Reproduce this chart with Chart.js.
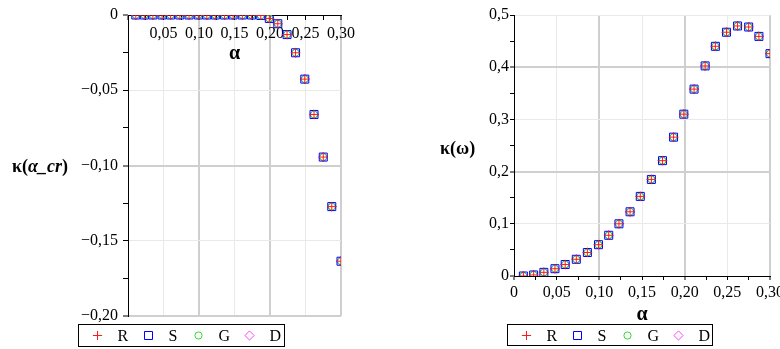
<!DOCTYPE html>
<html>
<head>
<meta charset="utf-8">
<script src="https://cdn.jsdelivr.net/npm/chart.js"></script>
<style>
html,body{margin:0;padding:0;background:#fff;overflow:hidden;width:780px;height:349px;}
#wrap{position:relative;width:780px;height:349px;overflow:hidden;}
canvas{position:absolute;top:0;}
#c1{left:0;}
#c2{left:390px;}
.ylab{position:absolute;font-family:"Liberation Serif",serif;font-weight:bold;font-size:18px;line-height:18px;white-space:nowrap;color:#000;}
#yl1{left:12px;top:157px;}
#yl2{left:440px;top:139px;}
</style>
</head>
<body>
<div id="wrap">
<canvas id="c1" width="390" height="349"></canvas>
<canvas id="c2" width="400" height="349"></canvas>
<div class="ylab" id="yl1">κ(<i>α_cr</i>)</div>
<div class="ylab" id="yl2">κ(ω)</div>
</div>
<script>
// ---------- data ----------
const alpha = [0.011,0.023,0.035,0.048,0.060,0.073,0.086,0.099,0.111,0.123,0.136,0.148,
               0.161,0.174,0.187,0.199,0.211,0.224,0.236,0.249,0.262,0.275,0.287,0.300];

// left chart: kappa(alpha_cr) for methods R, S, G, D
const kappaCrR = [0,0,0,0,0,0,0,0,0,0,0,0,0,0,-0.0003,-0.0023,-0.0058,-0.013,-0.0251,-0.0426,-0.0661,-0.0944,-0.1273,-0.1636];
const kappaCrS = [0,0,0,0,0,0,0,0,0,0,0,0,0,0,-0.0003,-0.0023,-0.0058,-0.013,-0.0251,-0.0426,-0.0661,-0.0944,-0.1273,-0.1636];
const kappaCrG = [0,0,0,0,0,0,0,0,0,0,0,0,0,0,-0.0003,-0.0023,-0.0058,-0.013,-0.0251,-0.0426,-0.0661,-0.0944,-0.1273,-0.1636];
const kappaCrD = [0,0,0,0,0,0,0,0,0,0,0,0,0,0,-0.0003,-0.0023,-0.0058,-0.013,-0.0251,-0.0426,-0.0661,-0.0944,-0.1273,-0.1636];

// right chart: kappa(omega) for methods R, S, G, D
const kappaOmR = [0.000,0.002,0.007,0.014,0.022,0.032,0.045,0.060,0.078,0.100,0.123,0.1525,0.185,0.221,0.266,0.310,0.358,0.4025,0.440,0.467,0.479,0.477,0.459,0.426];
const kappaOmS = [0.000,0.002,0.007,0.014,0.022,0.032,0.045,0.060,0.078,0.100,0.123,0.1525,0.185,0.221,0.266,0.310,0.358,0.4025,0.440,0.467,0.479,0.477,0.459,0.426];
const kappaOmG = [0.000,0.002,0.007,0.014,0.022,0.032,0.045,0.060,0.078,0.100,0.123,0.1525,0.185,0.221,0.266,0.310,0.358,0.4025,0.440,0.467,0.479,0.477,0.459,0.426];
const kappaOmD = [0.000,0.002,0.007,0.014,0.022,0.032,0.045,0.060,0.078,0.100,0.123,0.1525,0.185,0.221,0.266,0.310,0.358,0.4025,0.440,0.467,0.479,0.477,0.459,0.426];

const seriesNames = ['R','S','G','D'];

// tick labels
const xTickLabels = ['0','0,05','0,10','0,15','0,20','0,25','0,30'];
const yTickLabelsLeft = ['0','\u22120,05','\u22120,10','\u22120,15','\u22120,20'];
const yTickLabelsRight = ['0','0,1','0,2','0,3','0,4','0,5'];
const xTitle = '\u03b1';

// ---------- styling ----------
const FAMILY = 'Liberation Serif';
Chart.defaults.font.family = FAMILY;
Chart.defaults.font.size = 16;
Chart.defaults.color = '#000';
const tickFont = {family: FAMILY, size: 16};
const titleFont = {family: FAMILY, size: 20, weight: 'bold'};

const markerStyles = [
  {pointStyle:'cross',   color:'#ff1a1a', radius:4.6},
  {pointStyle:'rect',    color:'#0000ff', radius:5.66},
  {pointStyle:'circle',  color:'#2fd82f', radius:3.6},
  {pointStyle:'rectRot', color:'#ff40ff', radius:4.6}
];

function isMult(v, s){ const q = v / s; return Math.abs(q - Math.round(q)) < 1e-6; }
function gridFor(labelStep, darkStep, tickLen){
  return {
    color: (c) => {
      const v = c.tick ? c.tick.value : 0;
      if (Math.abs(v) < 1e-9) return 'rgba(0,0,0,0)';
      if (isMult(v, darkStep)) return '#cfcfcf';
      if (isMult(v, labelStep)) return '#e9e9e9';
      return 'rgba(0,0,0,0)';
    },
    lineWidth: (c) => {
      const v = c.tick ? c.tick.value : 0;
      return isMult(v, darkStep) ? 2 : 1;
    },
    tickColor: '#000',
    tickWidth: 1,
    tickLength: tickLen,
    drawTicks: true
  };
}

function makeDatasets(arrs){
  return arrs.map((arr, i) => ({
    label: seriesNames[i],
    data: arr.map((y, j) => ({x: alpha[j], y: y})),
    showLine: false,
    pointStyle: markerStyles[i].pointStyle,
    pointRadius: markerStyles[i].radius,
    pointHoverRadius: markerStyles[i].radius,
    borderColor: markerStyles[i].color,
    pointBorderColor: markerStyles[i].color,
    backgroundColor: 'rgba(0,0,0,0)',
    pointBackgroundColor: 'rgba(0,0,0,0)',
    pointBorderWidth: 1
  }));
}

// legend drawn in a framed box, using the library's point renderer
const boxLegend = {
  id: 'boxLegend',
  afterDraw(chart, args, o) {
    const ctx = chart.ctx;
    ctx.save();
    ctx.strokeStyle = '#000';
    ctx.lineWidth = 1;
    ctx.strokeRect(o.x + 0.5, o.y + 0.5, o.w, o.h);
    const cy = Math.round(o.y + o.h / 2) + 0.5;
    ctx.font = '16px "' + FAMILY + '"';
    ctx.textBaseline = 'middle';
    ctx.textAlign = 'left';
    chart.data.datasets.forEach((ds, i) => {
      const mx = Math.round(o.x + o.first + i * o.step) + 0.5;
      ctx.save();
      ctx.strokeStyle = ds.pointBorderColor;
      ctx.fillStyle = 'rgba(0,0,0,0)';
      ctx.lineWidth = 1;
      Chart.helpers.drawPoint(ctx, {pointStyle: ds.pointStyle, radius: ds.pointRadius, rotation: 0, borderWidth: 1}, mx, cy);
      ctx.restore();
      ctx.fillStyle = '#000';
      ctx.fillText(ds.label, mx + o.gap, cy + 1);
    });
    ctx.restore();
  }
};

// ---------- left chart ----------
new Chart(document.getElementById('c1'), {
  type: 'scatter',
  data: { datasets: makeDatasets([kappaCrR, kappaCrS, kappaCrG, kappaCrD]) },
  plugins: [boxLegend],
  options: {
    responsive: false, animation: false, devicePixelRatio: 1,
    layout: { padding: {top: 15, right: 49, bottom: 33, left: 0} },
    plugins: {
      legend: {display: false}, tooltip: {enabled: false},
      boxLegend: {x: 78, y: 324, w: 206, h: 22, first: 19, step: 50.6, gap: 20}
    },
    scales: {
      x: {
        type: 'linear', position: {y: 0}, min: 0, max: 0.3,
        ticks: {
          font: tickFont,
          stepSize: 0.025, autoSkip: false, maxRotation: 0, minRotation: 0, padding: 5,
          callback: (v) => {
            if (!isMult(v, 0.05)) return '';
            const k = Math.round(v / 0.05);
            return k === 0 ? '' : xTickLabels[k];
          }
        },
        grid: gridFor(0.05, 0.1, 4),
        border: {display: true, color: '#000', width: 1},
        title: {display: true, text: xTitle, font: titleFont, padding: 0},
        afterFit: (s) => { s.height = 51; }
      },
      y: {
        type: 'linear', min: -0.2, max: 0,
        ticks: {
          font: tickFont,
          stepSize: 0.025, autoSkip: false, padding: 5,
          callback: (v) => isMult(v, 0.05) ? yTickLabelsLeft[Math.round(-v / 0.05)] : ''
        },
        grid: gridFor(0.05, 0.1, 5),
        border: {display: true, color: '#000', width: 1},
        afterFit: (s) => { s.width = 128; }
      }
    }
  }
});

// ---------- right chart ----------
new Chart(document.getElementById('c2'), {
  type: 'scatter',
  data: { datasets: makeDatasets([kappaOmR, kappaOmS, kappaOmG, kappaOmD]) },
  plugins: [boxLegend],
  options: {
    responsive: false, animation: false, devicePixelRatio: 1,
    layout: { padding: {top: 15, right: 20, bottom: 22, left: 0} },
    plugins: {
      legend: {display: false}, tooltip: {enabled: false},
      boxLegend: {x: 117, y: 324, w: 205, h: 21, first: 19, step: 50.6, gap: 20}
    },
    scales: {
      x: {
        type: 'linear', position: 'bottom', min: 0, max: 0.3,
        ticks: {
          font: tickFont,
          stepSize: 0.025, autoSkip: false, maxRotation: 0, minRotation: 0, padding: 3,
          callback: (v) => isMult(v, 0.05) ? xTickLabels[Math.round(v / 0.05)] : ''
        },
        grid: gridFor(0.05, 0.1, 4),
        border: {display: true, color: '#000', width: 1},
        title: {display: true, text: xTitle, font: titleFont, padding: 0},
        afterFit: (s) => { s.height = 51; }
      },
      y: {
        type: 'linear', min: 0, max: 0.5,
        ticks: {
          font: tickFont,
          stepSize: 0.05, autoSkip: false, padding: 1,
          callback: (v) => isMult(v, 0.1) ? yTickLabelsRight[Math.round(v / 0.1)] : ''
        },
        grid: gridFor(0.1, 0.2, 4),
        border: {display: true, color: '#000', width: 1},
        afterFit: (s) => { s.width = 124; }
      }
    }
  }
});
</script>
</body>
</html>
